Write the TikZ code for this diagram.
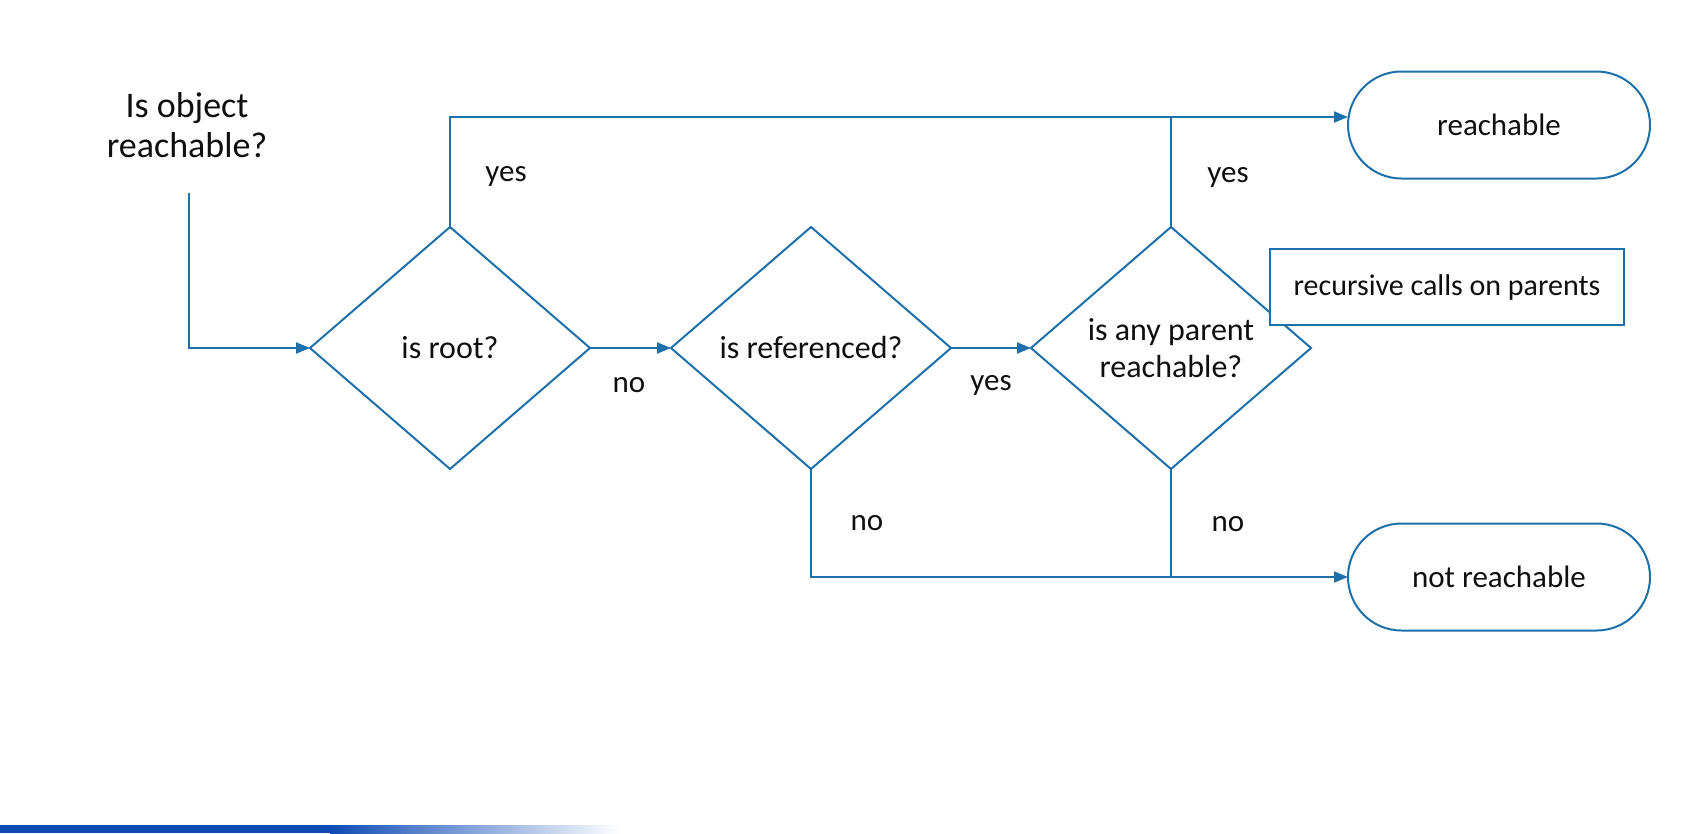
\documentclass[tikz,border=0pt]{standalone}
\usepackage{fontspec}
\setmainfont{Carlito}
\usetikzlibrary{shapes.geometric,shapes.misc,arrows.meta}
\definecolor{flow}{RGB}{30,112,170}
\definecolor{ink}{RGB}{15,15,15}
\definecolor{barblue}{RGB}{15,75,180}
\begin{document}
\begin{tikzpicture}[x=1pt,y=-1pt,
  line/.style={draw=flow, line width=2pt},
  arr/.style={line, -{Triangle[length=14pt,width=11pt]}},
  decision/.style={diamond, draw=flow, line width=2pt, minimum width=280pt, minimum height=242pt,
    inner sep=0pt, outer sep=0pt, align=center, text=ink, fill=white,
    font=\fontsize{32}{37}\selectfont},
  terminal/.style={rounded rectangle, draw=flow, line width=2pt, minimum width=302pt, minimum height=107pt,
    inner sep=0pt, outer sep=0pt, text=ink, fill=white, font=\fontsize{31}{36}\selectfont},
  note/.style={rectangle, draw=flow, line width=2pt, fill=white, minimum width=354pt, minimum height=76pt,
    inner sep=0pt, outer sep=0pt, text=ink, font=\fontsize{30}{36}\selectfont},
  lbl/.style={text=ink, font=\fontsize{31}{36}\selectfont, inner sep=0pt},
  titletext/.style={text=ink, align=center, inner sep=0pt, font=\fontsize{36}{40}\selectfont}
]
\useasboundingbox (0,0) rectangle (1700,833);
\fill[white] (0,0) rectangle (1700,833);

% nodes
\node[titletext] (title) at (187,125) {Is object\\reachable?};
\coordinate (start) at (189,193);
\node[decision] (d1) at (450,348) {is root?};
\node[decision] (d2) at (811,348) {is referenced?};
\node[decision] (d3) at (1171,348) {is any parent\\reachable?};
\node[terminal] (reach) at (1499,125) {reachable};
\node[terminal] (notreach) at (1499,577) {not reachable};
\coordinate (reachin) at ([yshift=8pt]reach.west);

% connectors
\draw[arr] (start) |- (d1.west);
\draw[arr] (d1.north) |- (reachin);
\draw[line] (d3.north) -- (d3.north |- reachin);
\draw[arr] (d1.east) -- (d2.west);
\draw[arr] (d2.east) -- (d3.west);
\draw[arr] (d2.south) |- (notreach.west);
\draw[line] (d3.south) -- (d3.south |- notreach.west);

% note drawn on top of the diamond
\node[note] (rec) at (1447,287) {recursive calls on parents};

% labels
\node[lbl] (l1) at (506,176) {yes};
\node[lbl] (l2) at (629,385) {no};
\node[lbl] (l3) at (991,385) {yes};
\node[lbl] (l4) at (867,523) {no};
\node[lbl] (l5) at (1228,177) {yes};
\node[lbl] (l6) at (1228,524) {no};

% slide decoration bar
\fill[barblue] (0,825) rectangle (330,833);
\shade[left color=barblue, right color=white] (330,825) rectangle (620,833);
\end{tikzpicture}
\end{document}
